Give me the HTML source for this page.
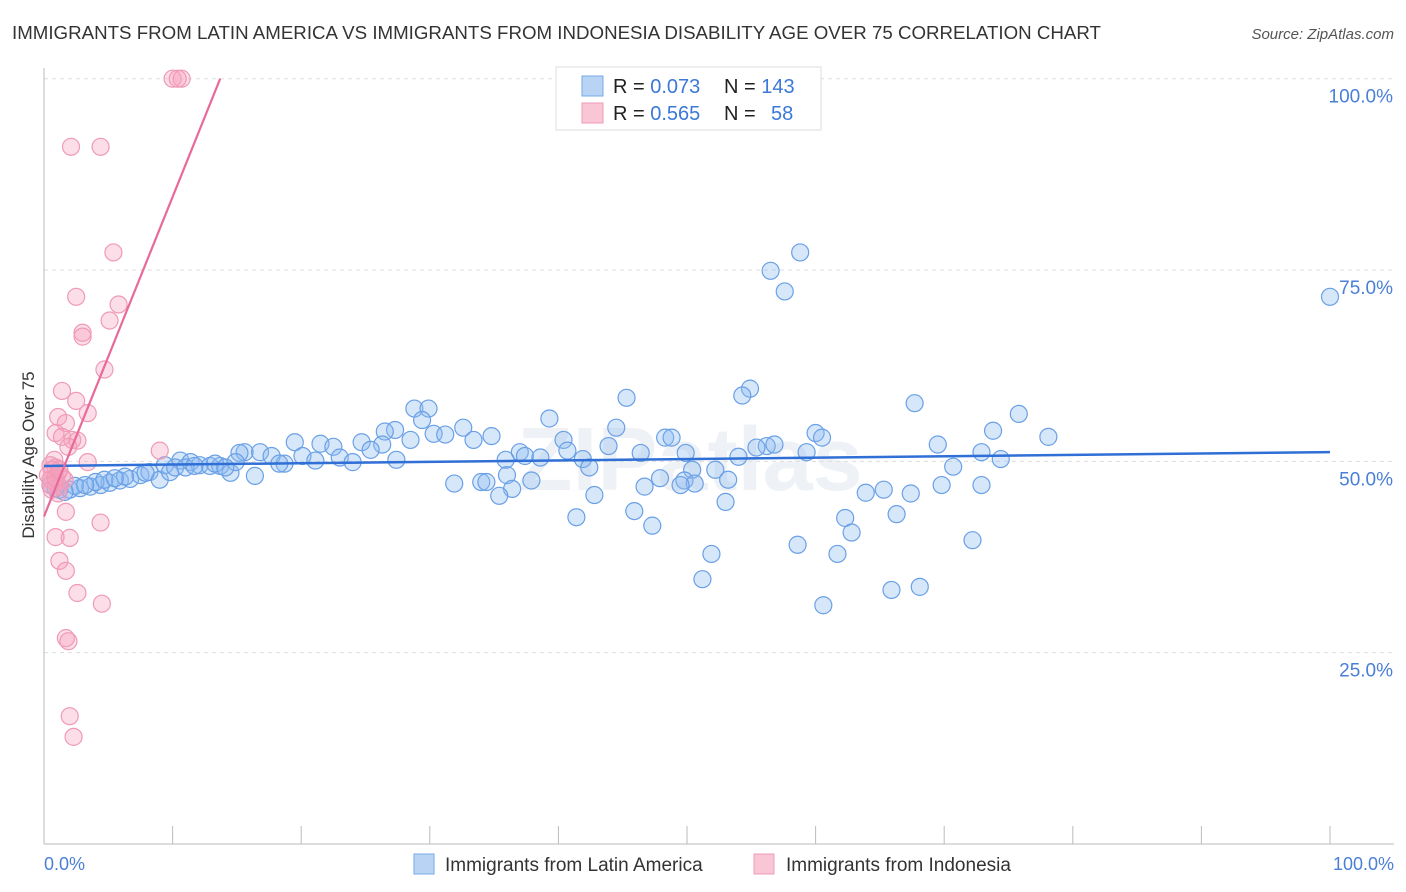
<!DOCTYPE html>
<html><head><meta charset="utf-8"><style>
body{margin:0;background:#fff;font-family:"Liberation Sans",sans-serif;}
svg{display:block}
</style></head><body>
<svg id="chart" width="1406" height="892" xmlns="http://www.w3.org/2000/svg">
<text x="12" y="39" font-size="18" fill="#333" textLength="1089" lengthAdjust="spacingAndGlyphs">IMMIGRANTS FROM LATIN AMERICA VS IMMIGRANTS FROM INDONESIA DISABILITY AGE OVER 75 CORRELATION CHART</text>
<text x="1394" y="39" font-size="15" fill="#555" font-style="italic" text-anchor="end">Source: ZipAtlas.com</text>
<text x="690" y="490" font-size="90" fill="#eef1f5" font-weight="bold" text-anchor="middle">ZIPatlas</text>
<g id="grid"></g>
<g id="axes"></g>
<g id="pts"></g>
<g id="lines"></g>
<text x="34" y="455" font-size="17" fill="#333" text-anchor="middle" transform="rotate(-90 34 455)">Disability Age Over 75</text>
<text x="44" y="870" font-size="18" fill="#4a7fd6">0.0%</text>
<text x="1394" y="870" font-size="18" fill="#4a7fd6" text-anchor="end">100.0%</text>
<g>
<rect x="556" y="67" width="265" height="63" fill="#fff" stroke="#ddd"/>
<rect x="582" y="76" width="21" height="20" fill="#b9d3f5" stroke="#78a8e8"/>
<rect x="582" y="103" width="21" height="20" fill="#f9c6d5" stroke="#ee9bb5"/>
<text x="613" y="93" font-size="20" fill="#222">R = <tspan fill="#3b78d8">0.073</tspan></text>
<text x="724" y="93" font-size="20" fill="#222">N = <tspan fill="#3b78d8">143</tspan></text>
<text x="613" y="120" font-size="20" fill="#222">R = <tspan fill="#3b78d8">0.565</tspan></text>
<text x="724" y="120" font-size="20" fill="#222">N = </text>
<text x="771" y="120" font-size="20" fill="#3b78d8">58</text>
</g>
<g>
<rect x="414" y="854" width="20" height="20" fill="#b9d3f5" stroke="#78a8e8"/>
<text x="445" y="871" font-size="19" fill="#333">Immigrants from Latin America</text>
<rect x="754" y="854" width="20" height="20" fill="#f9c6d5" stroke="#ee9bb5"/>
<text x="786" y="871" font-size="19" fill="#333">Immigrants from Indonesia</text>
</g>
</svg>
<script>
const yTicks=[25,50,75,100];
const yTickLabels=["25.0%","50.0%","75.0%","100.0%"];
const xTicks=[10,20,30,40,50,60,70,80,90,100];
const blueX=[100,58.8,56.5,57.6,54.9,54.3,45.3,28.8,29.9,39.3,75.8,67.7,29.4,27.3,32.6,30.3,26.5,31.2,44.5,78.1,73.8,60.0,60.5,34.8,33.4,40.4,48.3,48.8,26.3,28.5,19.5,21.5,22.5,24.7,25.4,69.5,72.9,74.4,70.7,56.2,55.4,56.8,59.3,54.0,46.4,43.9,40.7,37.0,37.4,38.6,35.9,41.9,15.6,15.2,16.8,17.7,20.1,23.0,24.0,27.4,21.1,18.7,18.3,42.4,49.9,50.4,52.2,47.9,49.8,50.6,53.2,46.7,49.5,36.0,37.9,34.0,34.4,31.9,36.4,35.4,42.8,41.4,45.9,47.3,53.0,51.9,51.2,58.6,60.6,61.7,62.3,62.8,63.9,65.3,66.3,67.4,69.8,72.9,72.2,65.9,68.1,
1.2,2.0,2.8,3.6,4.4,5.1,5.9,6.7,7.5,8.2,9.0,9.4,9.8,10.6,11.4,12.1,12.9,13.7,14.5,16.4,14.9,10.2,7.9,6.3,4.0,2.4,1.6,3.2,4.7,5.5,0.9,0.5,11.0,11.7,13.3,14.1];
const blueY=[71.5,77.3,74.9,72.2,59.5,58.6,58.3,56.9,56.9,55.6,56.2,57.6,55.4,54.1,54.4,53.6,53.9,53.5,54.4,53.2,54.0,53.7,53.1,53.3,52.8,52.8,53.1,53.1,52.2,52.8,52.5,52.3,51.9,52.5,51.5,52.2,51.2,50.3,49.3,52.0,51.8,52.2,51.2,50.6,51.1,52.0,51.4,51.2,50.7,50.5,50.2,50.3,51.2,51.1,51.2,50.7,50.7,50.5,49.9,50.2,50.1,49.7,49.7,49.2,51.1,48.9,48.9,47.8,47.5,47.1,47.6,46.7,46.9,48.2,47.5,47.3,47.3,47.1,46.4,45.5,45.6,42.7,43.5,41.6,44.7,37.9,34.6,39.1,31.2,37.9,42.6,40.7,45.9,46.3,43.1,45.8,46.9,46.9,39.7,33.2,33.6,
46.3,46.3,46.5,46.7,46.9,47.2,47.5,47.7,48.2,48.6,47.6,49.5,48.6,50.1,49.9,49.5,49.4,49.4,48.5,48.1,49.9,49.2,48.5,48.0,47.3,46.8,46.0,46.9,47.6,47.8,46.5,46.9,49.2,49.4,49.7,49.2];
const pinkX=[10.0,10.7,10.4,2.1,4.4,5.4,2.5,5.8,5.1,3.0,3.0,4.7,1.4,2.5,3.4,1.1,1.7,0.9,1.4,2.2,2.6,1.9,9.0,3.4,0.8,0.9,0.5,0.6,1.1,1.4,1.6,0.3,0.5,0.9,1.2,0.6,1.1,1.7,4.4,0.9,2.0,1.2,1.7,2.6,4.5,1.7,1.9,2.0,2.3,0.5,0.9,1.2];
const pinkY=[100,100,100,91.1,91.1,77.3,71.5,70.5,68.4,66.8,66.3,62.0,59.2,57.9,56.3,55.8,55.0,53.7,53.2,52.8,52.7,51.9,51.4,49.9,50.2,49.2,49.5,48.9,48.5,48.0,47.6,48.2,47.6,47.2,46.7,46.3,45.8,43.4,42.0,40.1,40.0,37.0,35.7,32.8,31.4,26.9,26.5,16.7,14.0,46.9,47.8,48.9];
const blueLine=[[0,49.4],[100,51.2]];
const pinkLine=[[0,42.8],[13.7,100]];
const X=v=>44+v*12.86, Y=v=>844-v*7.653;
const NS="http://www.w3.org/2000/svg";
function mk(t,a,p){const e=document.createElementNS(NS,t);for(const k in a)e.setAttribute(k,a[k]);p.appendChild(e);return e;}
const grid=document.getElementById('grid'),axes=document.getElementById('axes'),pts=document.getElementById('pts'),lines=document.getElementById('lines');
yTicks.forEach((t,i)=>{
 const l=mk('line',{x1:44,x2:1394,y1:Y(t),y2:Y(t),stroke:'#ddd','stroke-dasharray':'4,4'},grid);
 
 
 const tx=mk('text',{x:1393,y:Y(t)+24,'font-size':19,fill:'#4a7fd6','text-anchor':'end'},grid);
 tx.textContent=yTickLabels[i];
 
 
});
const ya=mk('line',{x1:44,x2:44,y1:68,y2:844,stroke:'#bbb'},axes);


const xa=mk('line',{x1:44,x2:1394,y1:844,y2:844,stroke:'#bbb'},axes);


xTicks.forEach(t=>{
 const l=mk('line',{x1:X(t),x2:X(t),y1:826,y2:844,stroke:'#bbb'},axes);
 
 
});
blueX.forEach((v,i)=>{
 const c=mk('circle',{cx:X(v),cy:Y(blueY[i]),r:8.5,fill:'rgba(140,185,240,0.35)',stroke:'#6aa0e6','stroke-width':1.2},pts);
 
 
});
pinkX.forEach((v,i)=>{
 const c=mk('circle',{cx:X(v),cy:Y(pinkY[i]),r:8.5,fill:'rgba(245,160,190,0.35)',stroke:'#ef9ab6','stroke-width':1.2},pts);
 
 
});
const bl=mk('line',{x1:X(blueLine[0][0]),y1:Y(blueLine[0][1]),x2:X(blueLine[1][0]),y2:Y(blueLine[1][1]),stroke:'#2f6fd6','stroke-width':2.5},lines);


const pl=mk('line',{x1:X(pinkLine[0][0]),y1:Y(pinkLine[0][1]),x2:X(pinkLine[1][0]),y2:Y(pinkLine[1][1]),stroke:'#e8699a','stroke-width':2.2},lines);


</script>
</body></html>
